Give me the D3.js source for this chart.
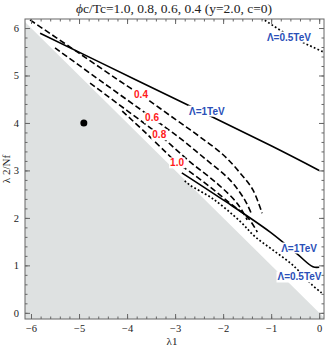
<!DOCTYPE html>
<html>
<head>
<meta charset="utf-8">
<script src="https://cdn.jsdelivr.net/npm/d3@7"></script>
<style>
body { margin: 0; background: #fff; }
text { font-family: "Liberation Serif", serif; }
</style>
</head>
<body>
<script>
const width = 327, height = 349;
const frame = {left: 25, right: 324, top: 19, bottom: 319};

// axis values
const xDomain = [-6.125, 0.1];
const yDomain = [-0.13, 6.19];
const xTicks = [-6, -5, -4, -3, -2, -1, 0];
const yTicks = [0, 1, 2, 3, 4, 5, 6];

// contours of phi_c/T_c (dashed)
const phiLevels = ["0.4", "0.6", "0.8", "1.0"];
const phi04 = [[-6.02, 6.17], [-5.0, 5.47], [-4.0, 4.78], [-3.71, 4.59], [-3.0, 4.08], [-2.5, 3.72], [-2.0, 3.33], [-1.65, 2.95], [-1.38, 2.59], [-1.19, 2.1]];
const phi06 = [[-5.5, 5.58], [-4.5, 4.85], [-3.48, 4.11], [-2.9, 3.68], [-2.38, 3.25], [-1.86, 2.8], [-1.55, 2.38], [-1.4, 2.06]];
const phi08 = [[-4.77, 4.84], [-4.0, 4.26], [-3.33, 3.75], [-2.69, 3.18], [-2.13, 2.73], [-1.71, 2.31], [-1.5, 1.96]];
const phi10 = [[-4.1, 4.25], [-3.6, 3.78], [-3.17, 3.36], [-2.96, 3.16], [-2.69, 2.97], [-2.27, 2.65], [-1.86, 2.31], [-1.48, 2.0], [-1.29, 1.7]];
const phiLabelPos = [[-3.71, 4.59], [-3.48, 4.11], [-3.33, 3.75], [-2.96, 3.16]];

// cutoff lines
const lam1Upper = [[-5.81, 5.89], [-3.8, 4.9], [-1.0, 3.52], [0.0, 3.0]];
const lam1Lower = [[-2.86, 2.95], [-2.0, 2.38], [-1.02, 1.7], [-0.46, 1.24], [-0.13, 0.97], [0.0, 0.96]];
const lam05Upper = [[-1.2, 6.21], [-0.62, 5.84], [0.1, 5.49]];
const lam05Lower = [[-2.8, 2.78], [-2.69, 2.69], [-2.21, 2.4], [-1.65, 1.93], [-1.33, 1.6], [-0.96, 1.32], [-0.545, 1.0], [-0.15, 0.59], [0.05, 0.42]];
const lamLabels = ["Λ=0.5TeV", "Λ=1TeV", "Λ=1TeV", "Λ=0.5TeV"];
const lamLabelPos = [[-0.63, 5.81], [-2.34, 4.25], [-0.42, 1.365], [-0.41, 0.755]];

// benchmark point
const point = [-4.9, 4.0];

var x = d3.scaleLinear().domain(xDomain).range([frame.left, frame.right]);
var y = d3.scaleLinear().domain(yDomain).range([frame.bottom, frame.top]);

var svg = d3.select("body").append("svg")
    .attr("width", width)
    .attr("height", height);

svg.append("clipPath").attr("id", "plotclip")
  .append("rect")
    .attr("x", frame.left).attr("y", frame.top)
    .attr("width", frame.right - frame.left)
    .attr("height", frame.bottom - frame.top);

var plot = svg.append("g").attr("clip-path", "url(#plotclip)");

// excluded region lambda2/Nf < -lambda1
var grey = [[xDomain[0] - 1, -xDomain[0] + 1], [xDomain[1] + 1, -xDomain[1] - 1], [xDomain[1] + 1, yDomain[0] - 1], [xDomain[0] - 1, yDomain[0] - 1]];
plot.append("path")
    .attr("d", "M" + grey.map(function(d) { return x(d[0]) + "," + y(d[1]); }).join("L") + "Z")
    .attr("fill", "#dee1e1");

var line = d3.line()
    .x(function(d) { return x(d[0]); })
    .y(function(d) { return y(d[1]); })
    .curve(d3.curveCatmullRom.alpha(0.5));

[phi04, phi06, phi08, phi10].forEach(function(c) {
    plot.append("path")
        .attr("d", line(c))
        .attr("fill", "none")
        .attr("stroke", "#000")
        .attr("stroke-width", 1.6)
        .attr("stroke-dasharray", "6,3");
});

[lam1Upper, lam1Lower].forEach(function(c) {
    plot.append("path")
        .attr("d", line(c))
        .attr("fill", "none")
        .attr("stroke", "#000")
        .attr("stroke-width", 1.6);
});

[lam05Upper, lam05Lower].forEach(function(c) {
    plot.append("path")
        .attr("d", line(c))
        .attr("fill", "none")
        .attr("stroke", "#000")
        .attr("stroke-width", 1.7)
        .attr("stroke-dasharray", "1.8,2.2");
});

plot.append("circle")
    .attr("cx", x(point[0]))
    .attr("cy", y(point[1]))
    .attr("r", 3.5)
    .attr("fill", "#000");

function addLabel(txt, pos, color) {
    var g = plot.append("g")
        .attr("transform", "translate(" + x(pos[0]) + "," + y(pos[1]) + ")");
    var t = g.append("text")
        .attr("text-anchor", "middle")
        .attr("dy", "0.35em")
        .style("font-family", "'Liberation Sans', Arial, sans-serif")
        .style("font-weight", "bold")
        .style("font-size", "10px")
        .attr("fill", color)
        .text(txt);
    var b = t.node().getBBox();
    g.insert("rect", "text")
        .attr("x", b.x - 1).attr("y", b.y)
        .attr("width", b.width + 2).attr("height", b.height)
        .attr("fill", "#fff");
}

phiLevels.forEach(function(l, i) { addLabel(l, phiLabelPos[i], "#ff1a1a"); });
lamLabels.forEach(function(l, i) { addLabel(l, lamLabelPos[i], "#2a4fb8"); });

// frame with ticks on all sides
function minor(dom) {
    return d3.range(Math.ceil(dom[0] * 5), Math.floor(dom[1] * 5) + 1).map(function(k) { return k / 5; });
}
var frameColor = "#666";

function styleAxis(g) {
    g.select(".domain").remove();
    g.selectAll("line").attr("stroke", frameColor);
    g.selectAll("text").style("font-family", "'Liberation Serif', serif").style("font-size", "10.5px").attr("fill", "#222");
}

svg.append("g").attr("transform", "translate(0," + frame.bottom + ")")
    .call(d3.axisBottom(x).tickValues(minor(xDomain)).tickSize(-2.5).tickFormat("")).call(styleAxis);
svg.append("g").attr("transform", "translate(0," + frame.bottom + ")")
    .call(d3.axisBottom(x).tickValues(xTicks).tickSize(-5).tickPadding(6).tickFormat(d3.format("d"))).call(styleAxis);
svg.append("g").attr("transform", "translate(0," + frame.top + ")")
    .call(d3.axisTop(x).tickValues(minor(xDomain)).tickSize(-2.5).tickFormat("")).call(styleAxis);
svg.append("g").attr("transform", "translate(0," + frame.top + ")")
    .call(d3.axisTop(x).tickValues(xTicks).tickSize(-5).tickFormat("")).call(styleAxis);

svg.append("g").attr("transform", "translate(" + frame.left + ",0)")
    .call(d3.axisLeft(y).tickValues(minor(yDomain)).tickSize(-2.5).tickFormat("")).call(styleAxis);
svg.append("g").attr("transform", "translate(" + frame.left + ",0)")
    .call(d3.axisLeft(y).tickValues(yTicks).tickSize(-5).tickPadding(6).tickFormat(d3.format("d"))).call(styleAxis);
svg.append("g").attr("transform", "translate(" + frame.right + ",0)")
    .call(d3.axisRight(y).tickValues(minor(yDomain)).tickSize(-2.5).tickFormat("")).call(styleAxis);
svg.append("g").attr("transform", "translate(" + frame.right + ",0)")
    .call(d3.axisRight(y).tickValues(yTicks).tickSize(-5).tickFormat("")).call(styleAxis);

svg.append("rect")
    .attr("x", frame.left).attr("y", frame.top)
    .attr("width", frame.right - frame.left)
    .attr("height", frame.bottom - frame.top)
    .attr("fill", "none")
    .attr("stroke", frameColor)
    .attr("stroke-width", 1);

// title and axis labels
var title = svg.append("text")
    .attr("x", 174).attr("y", 13)
    .attr("text-anchor", "middle")
    .style("font-size", "13.5px")
    .attr("fill", "#222");
title.append("tspan").style("font-style", "italic").text("ϕ");
title.append("tspan").text("c/Tc=1.0, 0.8, 0.6, 0.4 (y=2.0, c=0)");

svg.append("text")
    .attr("x", 172).attr("y", 345)
    .attr("text-anchor", "middle")
    .style("font-size", "11px")
    .attr("fill", "#222")
    .text("λ1");

svg.append("text")
    .attr("transform", "translate(10," + 169 + ") rotate(-90)")
    .attr("text-anchor", "middle")
    .style("font-size", "11px")
    .attr("fill", "#222")
    .text("λ 2/Nf");
</script>
</body>
</html>
